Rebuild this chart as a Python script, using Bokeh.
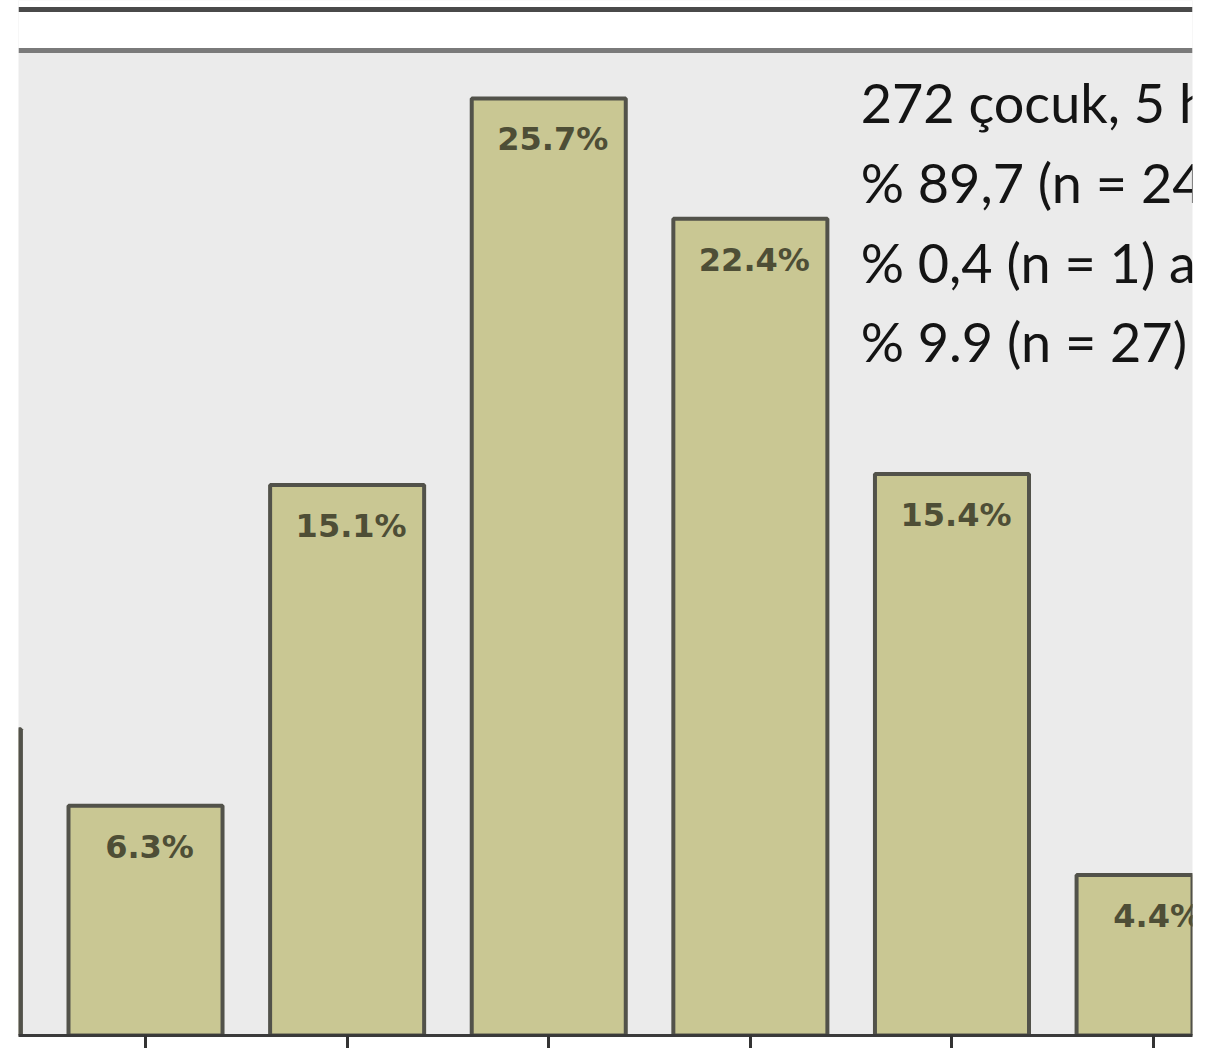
from bokeh.plotting import figure
from bokeh.models import ColumnDataSource, Range1d, FixedTicker
from bokeh.core.properties import value
from bokeh.embed import file_html
from bokeh.resources import INLINE

# Share of children per group (%); the first group sits partly off the left edge
groups = [0, 1, 2, 3, 4, 5, 6]
shares = [8.4, 6.3, 15.1, 25.7, 22.4, 15.4, 4.4]
share_labels = ["", "6.3%", "15.1%", "25.7%", "22.4%", "15.4%", "4.4%"]

# Summary notes written over the chart
notes = [
    "272 çocuk, 5 h",
    "% 89,7 (n = 24",
    "% 0,4 (n = 1) a",
    "% 9.9 (n = 27)",
]

BAR_FILL = "#c9c793"
BAR_EDGE = "#52524a"
BG = "#ebebeb"

# y axis: 36.46 px per percentage point, frame 1035 px tall
Y_TOP = 1035 / 36.46

p = figure(
    frame_width=1174, frame_height=1035,
    min_border_left=18, min_border_right=35,
    min_border_top=0, min_border_bottom=13,
    x_range=Range1d(0.37, 6.193), y_range=Range1d(0, Y_TOP),
    output_backend="svg", toolbar_location=None,
    background_fill_color=BG, border_fill_color="white",
)
p.outline_line_color = None
p.grid.visible = False
p.yaxis.visible = False

# white header band with two rules across the top of the panel
band_bottom = Y_TOP - 49.5 / 36.46
p.hstrip(y0=band_bottom, y1=Y_TOP + 1, fill_color="white", line_color=None)
p.hspan(y=Y_TOP - 8.5 / 36.46, line_color="#4a4a4a", line_width=5)
p.hspan(y=band_bottom, line_color="#7a7a7a", line_width=5)

bars = ColumnDataSource(dict(x=groups, top=shares, label=share_labels))
p.vbar(x="x", top="top", bottom=0, width=0.764, source=bars,
       fill_color=BAR_FILL, line_color=BAR_EDGE, line_width=4)

p.text(x="x", y="top", text="label", source=bars,
       text_align="center", text_baseline="top",
       x_offset=4, y_offset=22,
       text_font=value("DejaVu Sans"), text_font_style="bold",
       text_font_size="32px", text_color="#4e4e36")

note_src = ColumnDataSource(dict(
    x=[4.547] * len(notes), y=[25.6] * len(notes), text=notes,
    dy=[0, 80, 160, 239],
))
p.text(x="x", y="y", text="text", y_offset="dy", source=note_src,
       text_align="left", text_baseline="alphabetic",
       text_font=value("Lato"), text_font_size="54px", text_color="#141414")

ax = p.xaxis[0]
ax.ticker = FixedTicker(ticks=groups)
ax.major_label_overrides = {g: "" for g in groups}
ax.major_label_text_font_size = "0px"
ax.major_label_standoff = 0
ax.minor_tick_line_color = None
ax.major_tick_in = 0
ax.major_tick_out = 14
ax.major_tick_line_width = 3
ax.major_tick_line_color = "#333333"
ax.axis_line_width = 3
ax.axis_line_color = "#3a3a3a"

open("out.html", "w").write(file_html(p, INLINE))
